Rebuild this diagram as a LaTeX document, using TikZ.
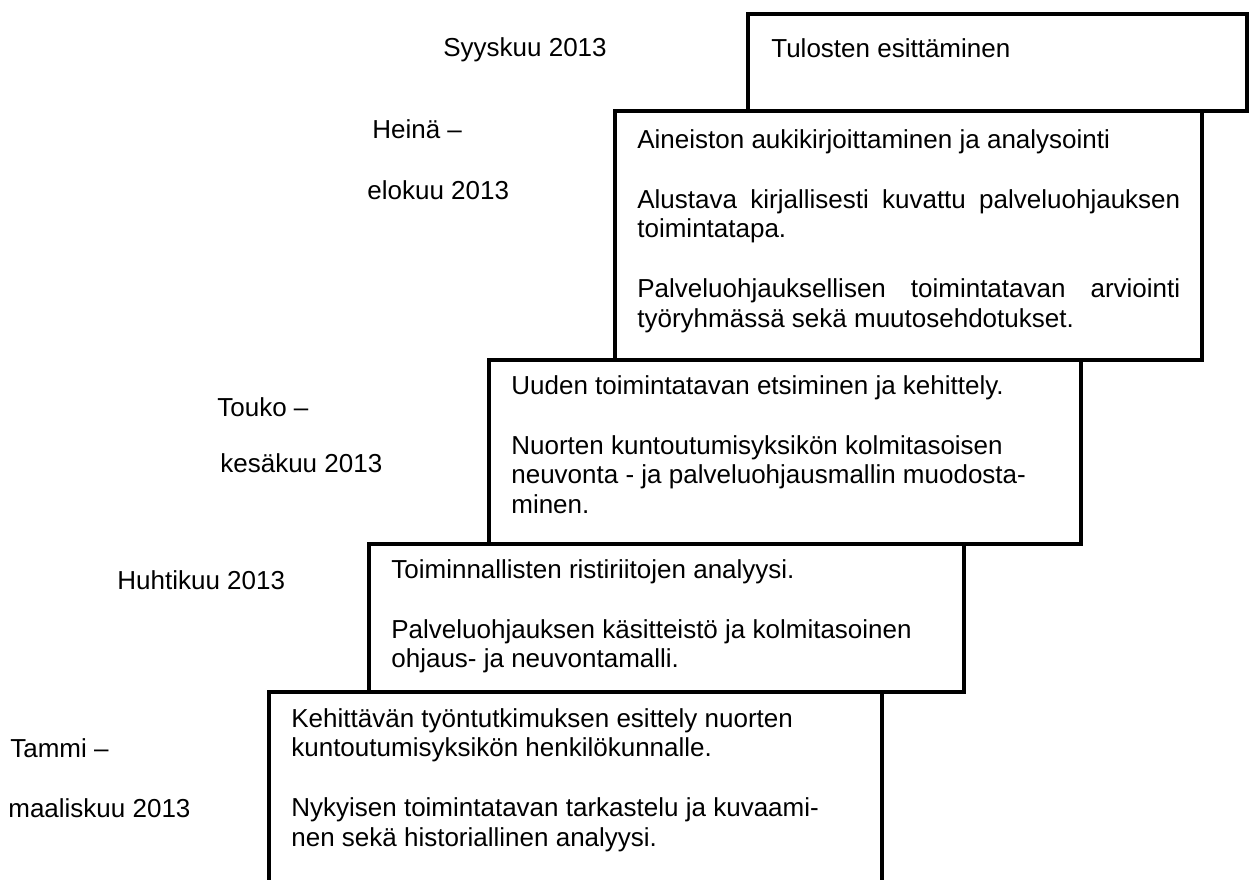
\documentclass[tikz,border=0pt]{standalone}
\usepackage{fontspec}
\setmainfont{Liberation Sans}
\newcommand{\px}{0.02cm}
\newlength\justw
\setlength{\justw}{10.86cm}
\tikzset{
  stage/.style={draw, line width=2.4pt, anchor=north west, inner sep=0pt},
  txt/.style={anchor=base west, inner sep=0pt, align=left,
    font=\fontsize{14.8}{16.8}\selectfont},
  boxtxt/.style={txt, anchor=north west},
}
\begin{document}
\begin{tikzpicture}[x=0.02cm, y=-0.02cm]
\useasboundingbox (0,0) rectangle (1254,879);
% vaiheet
\node[stage, minimum width=499*\px, minimum height=97*\px] (b1) at (746,12) {};
\node[stage, minimum width=587*\px, minimum height=249*\px] (b2) at (613,109) {};
\node[stage, minimum width=592*\px, minimum height=184*\px] (b3) at (487,358) {};
\node[stage, minimum width=595*\px, minimum height=148*\px] (b4) at (367,542) {};
\node[stage, minimum width=613*\px, minimum height=215*\px] (b5) at (267,690) {};
% tekstit
\node[boxtxt] (t1) at ([shift={(25,26)}]b1.north west) {Tulosten esittäminen};
\node[boxtxt] (t2) at ([shift={(24,20)}]b2.north west) {Aineiston aukikirjoittaminen ja analysointi\\[17.3pt]
  \makebox[\justw][s]{Alustava kirjallisesti kuvattu palveluohjauksen}\\
  toimintatapa.\\[17.3pt]
  \makebox[\justw][s]{Palveluohjauksellisen toimintatavan arviointi}\\
  työryhmässä sekä muutosehdotukset.};
\node[boxtxt] (t3) at ([shift={(24,17)}]b3.north west) {Uuden toimintatavan etsiminen ja kehittely.\\[17.3pt]
  Nuorten kuntoutumisyksikön kolmitasoisen\\
  neuvonta - ja palveluohjausmallin muodosta-\\
  minen.};
\node[boxtxt] (t4) at ([shift={(24,17)}]b4.north west) {Toiminnallisten ristiriitojen analyysi.\\[17.3pt]
  Palveluohjauksen käsitteistö ja kolmitasoinen\\
  ohjaus- ja neuvontamalli.};
\node[boxtxt] (t5) at ([shift={(24,18)}]b5.north west) {Kehittävän työntutkimuksen esittely nuorten\\
  kuntoutumisyksikön henkilökunnalle.\\[17.3pt]
  Nykyisen toimintatavan tarkastelu ja kuvaami-\\
  nen sekä historiallinen analyysi.};
% ajankohdat
\node[txt] (syys) at (443,56) {Syyskuu 2013};
\node[txt] (heina) at (372,138) {Heinä –};
\node[txt] (elo) at (367,199) {elokuu 2013};
\node[txt] (touko) at (217,416) {Touko –};
\node[txt] (kesa) at (220,472) {kesäkuu 2013};
\node[txt] (huhti) at (117,589) {Huhtikuu 2013};
\node[txt] (tammi) at (10,757) {Tammi –};
\node[txt] (maalis) at (8,817) {maaliskuu 2013};
\end{tikzpicture}
\end{document}
